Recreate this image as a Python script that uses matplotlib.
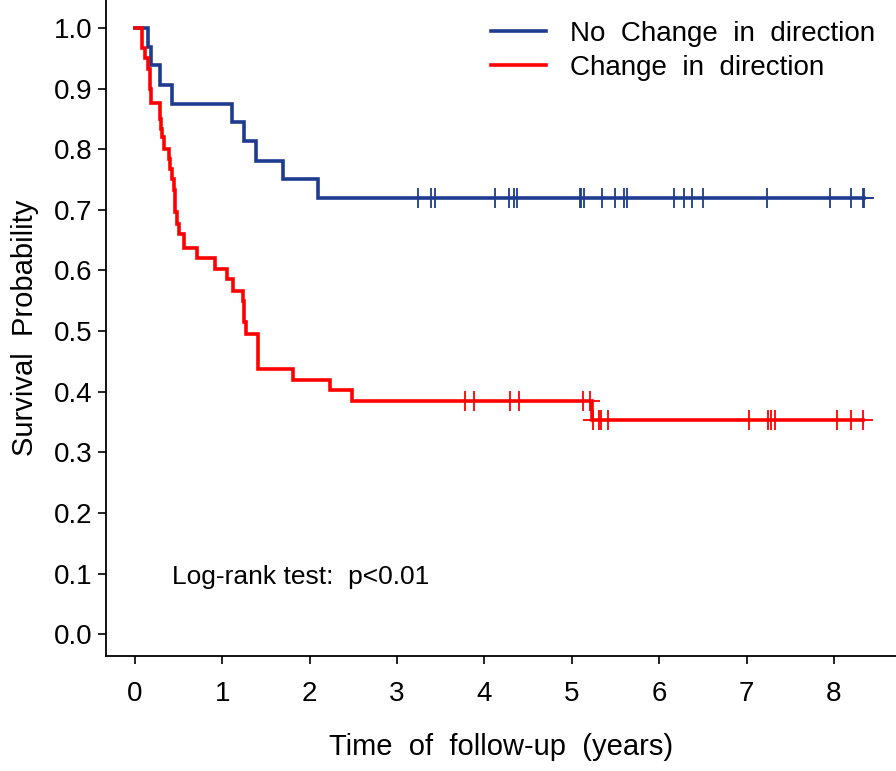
import numpy as np
import matplotlib
matplotlib.use("Agg")
import matplotlib.pyplot as plt

plt.rcParams['font.family'] = ['Liberation Sans', 'DejaVu Sans']

# No change in direction (blue): event times and survival after each step
blue_t = [0.0, 0.15, 0.19, 0.29, 0.42, 1.11, 1.25, 1.39, 1.69, 2.10]
blue_s = [1.0, 0.969, 0.938, 0.906, 0.875, 0.844, 0.813, 0.781, 0.750, 0.719]
blue_cens = [3.24, 3.39, 3.44, 4.12, 4.28, 4.34, 4.37, 5.09, 5.11, 5.14, 5.35,
             5.49, 5.60, 5.63, 6.17, 6.28, 6.37, 6.50, 7.23, 7.96, 8.19, 8.33, 8.34]

# Change in direction (red)
red_t = [0.0, 0.08, 0.12, 0.15, 0.17, 0.19, 0.29, 0.30, 0.31, 0.33, 0.39, 0.40,
         0.43, 0.45, 0.455, 0.46, 0.48, 0.51, 0.56, 0.565, 0.71, 0.92, 1.06, 1.12,
         1.24, 1.245, 1.25, 1.27, 1.41, 1.81, 2.23, 2.48, 5.23]
red_s = [1.0, 0.967, 0.950, 0.933, 0.900, 0.876, 0.850, 0.833, 0.820, 0.800, 0.783, 0.767,
         0.750, 0.733, 0.717, 0.697, 0.677, 0.660, 0.645, 0.637, 0.620, 0.602, 0.585, 0.566,
         0.550, 0.533, 0.515, 0.495, 0.437, 0.419, 0.402, 0.384, 0.353]
red_cens = [3.78, 3.88, 4.29, 4.40, 5.13, 5.21, 5.24, 5.31, 5.33, 5.41,
            7.03, 7.25, 7.28, 7.33, 8.03, 8.19, 8.33]

blue_col = '#1d3c8f'
red_col = '#ff0000'


def level_at(times, surv, tc):
    idx = np.searchsorted(times, tc, side='right') - 1
    return np.array(surv)[idx]


fig = plt.figure(figsize=(8.96, 7.71), dpi=100)
ax = fig.add_axes([0.1183, 0.1492, 0.8817, 0.8508])

for t, s, c, col, lab in [(blue_t, blue_s, blue_cens, blue_col, 'No  Change  in  direction'),
                          (red_t, red_s, red_cens, red_col, 'Change  in  direction')]:
    t_end = max(c)
    tt = list(t) + [t_end]
    ss = list(s) + [s[-1]]
    ax.step(tt, ss, where='post', color=col, lw=2.6, label=lab, solid_joinstyle='miter')
    ax.plot(c, level_at(t, s, c), ls='none', marker='+', ms=15, mew=1.3, color=col)

ax.set_xlim(-0.33, 8.71)
ax.set_ylim(-0.036, 1.046)
ax.set_xticks(range(0, 9))
ax.set_yticks(np.arange(0, 1.01, 0.1))
ax.set_yticklabels([f'{v:.1f}' for v in np.arange(0, 1.01, 0.1)])
ax.tick_params(labelsize=20, length=6, width=1.2, direction='out')
ax.tick_params(axis='x', pad=12)
ax.spines['top'].set_visible(False)
ax.spines['right'].set_visible(False)
for sp in ['left', 'bottom']:
    ax.spines[sp].set_linewidth(1.3)

ax.set_xlabel('Time  of  follow-up  (years)', fontsize=21, labelpad=19)
ax.set_ylabel('Survival  Probability', fontsize=21, labelpad=11)

ax.text(0.42, 0.094, 'Log-rank test:  p<0.01', fontsize=19, va='center', ha='left')

leg = ax.legend(loc='upper right', frameon=False, fontsize=20, handlelength=2.0,
                handletextpad=0.85, borderaxespad=0.35, labelspacing=0.3)

fig.savefig('out.png', dpi=100)
